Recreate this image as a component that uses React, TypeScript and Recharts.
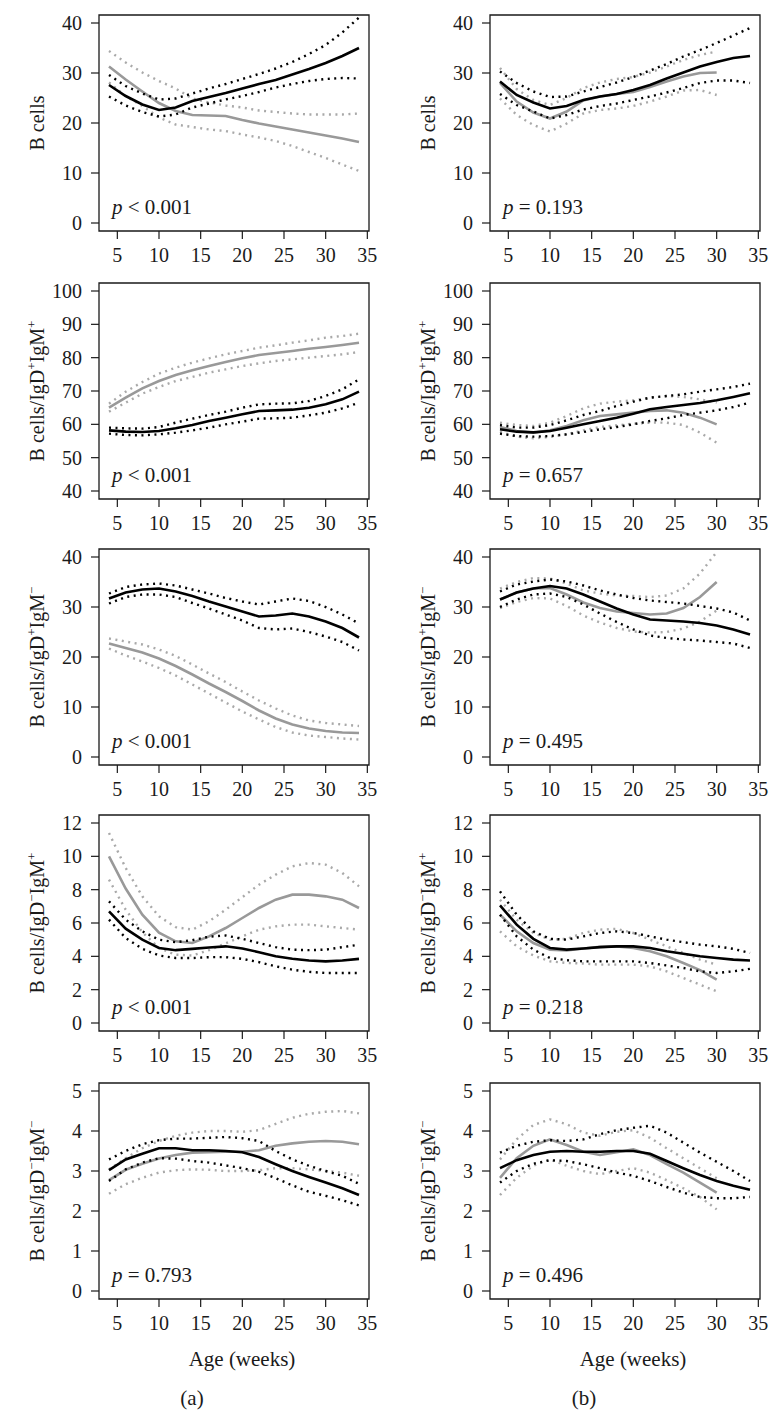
import React from "react";
import { Customized, Line, LineChart, ReferenceArea, XAxis, YAxis } from "recharts";

const FONT = "Liberation Serif, DejaVu Serif, serif";
const INK = "#1a1a1a";
const GREY = "#999999";
const GREY_DOT = "#a9a9a9";

// ages in weeks (group b's grey curve stops at 30)
const weeks = [4, 6, 8, 10, 12, 14, 16, 18, 20, 22, 24, 26, 28, 30, 32, 34];
const xTicks = [5, 10, 15, 20, 25, 30, 35];

const yTicks40 = [0, 10, 20, 30, 40];
const yTicks100 = [40, 50, 60, 70, 80, 90, 100];
const yTicks12 = [0, 2, 4, 6, 8, 10, 12];
const yTicks5 = [0, 1, 2, 3, 4, 5];

const pTextA = ["< 0.001", "< 0.001", "< 0.001", "< 0.001", "= 0.793"];
const pTextB = ["= 0.193", "= 0.657", "= 0.495", "= 0.218", "= 0.496"];

// superscript signs after IgD and IgM in the y labels (first row is plain "B cells")
const labelSigns: (string[] | null)[] = [null, ["+", "+"], ["+", "\u2212"], ["\u2212", "+"], ["\u2212", "\u2212"]];

// --- B cells
const a1Black = [27.6, 25.4, 23.7, 22.6, 23.1, 24.4, 25.2, 26.0, 26.9, 27.8, 28.6, 29.7, 30.8, 32.0, 33.4, 35.0];
const a1BlackHi = [29.6, 27.4, 25.9, 24.7, 24.9, 25.9, 26.9, 27.8, 28.8, 29.8, 30.9, 32.2, 33.8, 35.6, 38.1, 41.1];
const a1BlackLo = [25.3, 23.5, 22.2, 21.3, 21.7, 23.1, 23.9, 24.7, 25.4, 26.2, 27.1, 27.8, 28.4, 28.8, 29.0, 28.9];
const a1Grey = [31.3, 28.7, 26.3, 24.0, 22.4, 21.6, 21.5, 21.4, 20.6, 19.9, 19.3, 18.7, 18.1, 17.5, 16.9, 16.2];
const a1GreyHi = [34.4, 32.1, 30.1, 28.4, 26.9, 24.9, 24.1, 23.5, 23.1, 22.5, 22.2, 21.9, 21.7, 21.7, 21.7, 21.9];
const a1GreyLo = [28.1, 25.4, 23.4, 21.1, 19.7, 19.2, 18.7, 18.4, 17.7, 17.1, 16.4, 15.4, 14.2, 13.0, 11.7, 10.4];

const b1Black = [28.3, 25.6, 24.1, 22.9, 23.4, 24.6, 25.3, 25.8, 26.6, 27.6, 28.9, 30.1, 31.3, 32.2, 33.0, 33.4];
const b1BlackHi = [30.3, 28.0, 26.3, 25.2, 25.3, 26.3, 27.2, 28.1, 29.2, 30.5, 31.8, 33.3, 34.6, 36.0, 37.5, 39.0];
const b1BlackLo = [25.8, 23.6, 22.3, 20.9, 21.6, 22.7, 23.4, 23.9, 24.6, 25.3, 26.1, 27.0, 28.0, 28.5, 28.5, 28.0];
const b1Grey = [28.0, 24.3, 22.1, 20.9, 22.3, 24.5, 25.3, 25.8, 26.2, 27.2, 28.3, 29.3, 30.0, 30.1];
const b1GreyHi = [31.0, 26.8, 24.6, 23.6, 25.0, 27.0, 28.1, 28.8, 29.2, 30.1, 31.3, 32.6, 33.6, 34.3];
const b1GreyLo = [24.9, 21.6, 19.6, 18.3, 19.9, 21.9, 22.6, 22.9, 23.4, 24.3, 25.3, 26.5, 26.6, 25.6];

// --- IgD+ IgM+
const a2Black = [58.2, 57.8, 57.7, 58.0, 58.8, 59.8, 61.0, 62.0, 63.0, 64.0, 64.2, 64.4, 65.0, 66.0, 67.5, 69.8];
const a2BlackHi = [59.0, 58.8, 58.7, 59.2, 60.5, 61.7, 62.8, 63.8, 65.0, 66.0, 66.2, 66.3, 67.0, 68.5, 70.5, 73.5];
const a2BlackLo = [57.2, 56.8, 56.7, 57.0, 57.5, 58.2, 59.0, 60.0, 60.8, 61.7, 61.8, 62.0, 62.7, 63.5, 64.8, 66.5];
const a2Grey = [65.0, 68.0, 70.8, 73.0, 74.8, 76.2, 77.5, 78.7, 79.8, 80.8, 81.4, 82.0, 82.7, 83.2, 83.8, 84.5];
const a2GreyHi = [66.2, 69.8, 72.7, 75.2, 77.0, 78.5, 79.8, 81.0, 82.0, 83.0, 83.7, 84.5, 85.2, 86.0, 86.5, 87.2];
const a2GreyLo = [63.8, 66.5, 69.2, 71.2, 73.0, 74.2, 75.5, 76.5, 77.5, 78.3, 79.0, 79.5, 80.0, 80.5, 81.0, 81.7];

const b2Black = [58.5, 57.8, 57.6, 58.0, 59.0, 60.0, 61.0, 62.0, 63.2, 64.5, 65.2, 65.8, 66.4, 67.2, 68.2, 69.3];
const b2BlackHi = [59.8, 59.0, 59.0, 59.8, 61.2, 62.8, 64.0, 65.5, 66.8, 68.0, 68.5, 69.0, 69.8, 70.5, 71.2, 72.2];
const b2BlackLo = [57.2, 56.5, 56.3, 56.5, 57.0, 57.7, 58.5, 59.2, 60.0, 61.0, 61.8, 62.8, 63.5, 64.2, 65.2, 66.5];
const b2Grey = [59.2, 58.0, 57.5, 58.2, 59.5, 61.2, 62.5, 63.0, 63.5, 64.0, 64.2, 63.5, 62.0, 60.0];
const b2GreyHi = [60.5, 59.8, 59.5, 60.5, 62.5, 64.8, 66.2, 66.8, 67.2, 68.0, 68.5, 68.2, 67.5, 66.5];
const b2GreyLo = [57.8, 56.3, 55.8, 56.2, 57.0, 58.2, 59.2, 59.7, 60.2, 60.5, 60.5, 59.8, 57.5, 54.5];

// --- IgD+ IgM-
const a3Black = [31.7, 32.9, 33.5, 33.7, 33.1, 32.2, 31.1, 30.1, 29.1, 28.1, 28.3, 28.7, 28.1, 27.1, 25.8, 23.9];
const a3BlackHi = [32.7, 34.0, 34.5, 34.7, 34.3, 33.5, 32.7, 31.8, 31.1, 30.5, 31.1, 31.7, 31.2, 30.0, 28.5, 26.7];
const a3BlackLo = [30.7, 32.0, 32.5, 32.5, 32.0, 30.8, 29.7, 28.5, 27.3, 25.8, 25.5, 25.7, 25.0, 24.1, 23.0, 21.3];
const a3Grey = [22.7, 21.8, 20.9, 19.7, 18.2, 16.5, 14.7, 13.0, 11.2, 9.3, 7.7, 6.5, 5.7, 5.2, 4.9, 4.8];
const a3GreyHi = [23.7, 23.1, 22.5, 21.5, 20.2, 18.5, 16.7, 15.0, 13.1, 11.3, 9.7, 8.3, 7.3, 6.8, 6.5, 6.2];
const a3GreyLo = [21.7, 20.3, 19.1, 17.8, 16.3, 14.5, 12.7, 10.9, 9.1, 7.5, 6.0, 4.9, 4.3, 4.0, 3.7, 3.5];

const b3Black = [31.5, 32.9, 33.7, 34.2, 33.7, 32.5, 31.1, 29.7, 28.5, 27.5, 27.3, 27.1, 26.8, 26.3, 25.5, 24.5];
const b3BlackHi = [33.1, 34.5, 35.1, 35.5, 35.1, 34.3, 33.3, 32.5, 31.8, 31.3, 31.0, 30.7, 30.2, 29.7, 28.9, 27.3];
const b3BlackLo = [30.0, 31.5, 32.5, 32.7, 32.0, 30.5, 28.7, 27.0, 25.5, 24.3, 23.8, 23.5, 23.3, 23.0, 22.7, 21.8];
const b3Grey = [31.5, 32.9, 33.7, 33.8, 32.5, 30.9, 29.8, 29.1, 28.8, 28.5, 28.7, 29.8, 32.0, 35.0];
const b3GreyHi = [33.7, 35.0, 35.8, 35.7, 34.7, 33.3, 32.7, 32.3, 32.2, 32.0, 32.3, 33.7, 36.7, 41.0];
const b3GreyLo = [29.8, 31.0, 31.8, 31.7, 30.2, 28.3, 26.9, 25.8, 25.1, 24.9, 25.0, 25.7, 27.1, 29.3];

// --- IgD- IgM+
const a4Black = [6.7, 5.66, 5.0, 4.5, 4.37, 4.45, 4.53, 4.6, 4.47, 4.25, 4.0, 3.85, 3.75, 3.7, 3.75, 3.85];
const a4BlackHi = [7.3, 6.2, 5.5, 5.0, 4.85, 4.97, 5.18, 5.25, 5.05, 4.8, 4.55, 4.4, 4.37, 4.4, 4.55, 4.7];
const a4BlackLo = [6.2, 5.1, 4.45, 4.05, 3.9, 3.9, 3.95, 3.95, 3.85, 3.65, 3.4, 3.2, 3.07, 3.0, 3.0, 3.0];
const a4Grey = [10.0, 8.07, 6.5, 5.42, 4.9, 4.8, 5.2, 5.7, 6.3, 6.9, 7.4, 7.7, 7.7, 7.6, 7.4, 6.9];
const a4GreyHi = [11.4, 9.3, 7.6, 6.4, 5.75, 5.6, 6.1, 6.8, 7.55, 8.3, 8.9, 9.4, 9.6, 9.5, 9.0, 8.2];
const a4GreyLo = [8.6, 6.8, 5.45, 4.5, 4.1, 4.05, 4.37, 4.78, 5.2, 5.6, 5.8, 5.9, 5.9, 5.8, 5.7, 5.6];

const b4Black = [7.06, 5.9, 5.05, 4.5, 4.4, 4.47, 4.55, 4.6, 4.6, 4.5, 4.3, 4.15, 4.0, 3.9, 3.8, 3.75];
const b4BlackHi = [7.9, 6.5, 5.5, 5.05, 5.0, 5.2, 5.4, 5.5, 5.4, 5.2, 5.0, 4.85, 4.7, 4.6, 4.45, 4.2];
const b4BlackLo = [6.5, 5.2, 4.4, 3.9, 3.77, 3.7, 3.7, 3.7, 3.7, 3.6, 3.45, 3.3, 3.1, 3.0, 3.1, 3.25];
const b4Grey = [6.5, 5.5, 4.8, 4.4, 4.35, 4.47, 4.57, 4.6, 4.5, 4.3, 4.0, 3.6, 3.17, 2.6];
const b4GreyHi = [7.4, 6.2, 5.4, 5.0, 5.05, 5.4, 5.6, 5.65, 5.4, 5.0, 4.6, 4.2, 3.8, 3.5];
const b4GreyLo = [5.5, 4.6, 4.05, 3.7, 3.6, 3.57, 3.5, 3.5, 3.5, 3.4, 3.1, 2.7, 2.3, 1.9];

// --- IgD- IgM-
const a5Black = [3.02, 3.29, 3.43, 3.57, 3.57, 3.52, 3.52, 3.5, 3.47, 3.35, 3.17, 3.0, 2.85, 2.71, 2.57, 2.4];
const a5BlackHi = [3.29, 3.5, 3.67, 3.77, 3.81, 3.81, 3.83, 3.85, 3.82, 3.75, 3.5, 3.29, 3.13, 3.0, 2.88, 2.68];
const a5BlackLo = [2.75, 3.04, 3.21, 3.32, 3.31, 3.25, 3.21, 3.14, 3.07, 2.98, 2.82, 2.64, 2.48, 2.38, 2.27, 2.14];
const a5Grey = [2.77, 3.03, 3.18, 3.31, 3.4, 3.46, 3.47, 3.48, 3.48, 3.52, 3.63, 3.69, 3.73, 3.75, 3.73, 3.67];
const a5GreyHi = [3.04, 3.32, 3.57, 3.75, 3.88, 3.96, 4.0, 4.0, 3.98, 4.02, 4.18, 4.33, 4.43, 4.48, 4.5, 4.44];
const a5GreyLo = [2.43, 2.67, 2.83, 2.96, 3.02, 3.04, 3.03, 3.0, 3.0, 3.02, 3.07, 3.07, 3.04, 3.0, 2.96, 2.88];

const b5Black = [3.07, 3.27, 3.4, 3.48, 3.5, 3.48, 3.48, 3.5, 3.5, 3.43, 3.25, 3.07, 2.9, 2.75, 2.63, 2.53];
const b5BlackHi = [3.46, 3.63, 3.73, 3.77, 3.75, 3.79, 3.92, 4.02, 4.08, 4.13, 3.96, 3.71, 3.46, 3.23, 3.0, 2.75];
const b5BlackLo = [2.71, 3.0, 3.18, 3.27, 3.25, 3.17, 3.07, 2.96, 2.88, 2.75, 2.6, 2.46, 2.35, 2.32, 2.32, 2.35];
const b5Grey = [2.83, 3.32, 3.63, 3.79, 3.65, 3.48, 3.4, 3.47, 3.54, 3.4, 3.17, 2.96, 2.71, 2.46];
const b5GreyHi = [3.29, 3.79, 4.15, 4.29, 4.17, 3.96, 3.88, 3.98, 4.02, 3.83, 3.57, 3.32, 3.07, 2.82];
const b5GreyLo = [2.4, 2.83, 3.13, 3.29, 3.13, 3.0, 2.92, 3.0, 3.07, 2.96, 2.77, 2.57, 2.35, 2.04];

const seriesA = [
  [a1Black, a1BlackHi, a1BlackLo, a1Grey, a1GreyHi, a1GreyLo],
  [a2Black, a2BlackHi, a2BlackLo, a2Grey, a2GreyHi, a2GreyLo],
  [a3Black, a3BlackHi, a3BlackLo, a3Grey, a3GreyHi, a3GreyLo],
  [a4Black, a4BlackHi, a4BlackLo, a4Grey, a4GreyHi, a4GreyLo],
  [a5Black, a5BlackHi, a5BlackLo, a5Grey, a5GreyHi, a5GreyLo],
];
const seriesB = [
  [b1Black, b1BlackHi, b1BlackLo, b1Grey, b1GreyHi, b1GreyLo],
  [b2Black, b2BlackHi, b2BlackLo, b2Grey, b2GreyHi, b2GreyLo],
  [b3Black, b3BlackHi, b3BlackLo, b3Grey, b3GreyHi, b3GreyLo],
  [b4Black, b4BlackHi, b4BlackLo, b4Grey, b4GreyHi, b4GreyLo],
  [b5Black, b5BlackHi, b5BlackLo, b5Grey, b5GreyHi, b5GreyLo],
];
const rowTicks = [yTicks40, yTicks100, yTicks40, yTicks12, yTicks5];

// layout (px)
const COL_W = 391;
const BOX_LEFT = 99;
const BOX_W = 270;
const BOX_H = 216;
const TOP_PAD = 15;
const ROW_BOX_TOPS = [15, 283, 549, 815, 1083];
const PAGE_H = 1421;

const KEYS = ["black", "blackHi", "blackLo", "grey", "greyHi", "greyLo"];

function buildRows(series: number[][]) {
  return weeks.map((w, i) => {
    const row: Record<string, number | null> = { week: w };
    KEYS.forEach((k, j) => {
      row[k] = series[j][i] ?? null;
    });
    return row;
  });
}

function YLabel({ signs }: { signs: string[] | null }) {
  const x = 44;
  const y = TOP_PAD + BOX_H / 2;
  return (
    <text
      x={x}
      y={y}
      transform={`rotate(-90, ${x}, ${y})`}
      textAnchor="middle"
      fontFamily={FONT}
      fontSize={20}
      fill={INK}
    >
      {signs ? (
        <>
          B cells/IgD
          <tspan dy={-8} fontSize={13}>{signs[0]}</tspan>
          <tspan dy={8}>IgM</tspan>
          <tspan dy={-8} fontSize={13}>{signs[1]}</tspan>
        </>
      ) : (
        "B cells"
      )}
    </text>
  );
}

function Panel({ col, row }: { col: number; row: number }) {
  const ticks = rowTicks[row];
  const lo = ticks[0];
  const hi = ticks[ticks.length - 1];
  const pad = (hi - lo) * 0.04;
  const xPad = (weeks[weeks.length - 1] - weeks[0]) * 0.04;
  const xDomain = [weeks[0] - xPad, weeks[weeks.length - 1] + xPad];
  const data = buildRows((col === 0 ? seriesA : seriesB)[row]);
  const pText = (col === 0 ? pTextA : pTextB)[row];
  const last = row === ROW_BOX_TOPS.length - 1;
  const top = ROW_BOX_TOPS[row] - TOP_PAD;
  const height = last ? PAGE_H - top : TOP_PAD + BOX_H + 36;
  const tickStyle = { fontFamily: FONT, fontSize: 20, fill: INK };

  const dotted = { strokeWidth: 2.4, strokeDasharray: "2 4.5", strokeLinecap: "butt" as const };

  return (
    <div style={{ position: "absolute", left: col * COL_W, top }}>
      <LineChart
        width={COL_W}
        height={height}
        data={data}
        margin={{ top: TOP_PAD, right: COL_W - BOX_LEFT - BOX_W, bottom: 0, left: 0 }}
        style={{ fontFamily: FONT }}
      >
        <XAxis
          dataKey="week"
          type="number"
          domain={xDomain}
          allowDataOverflow
          ticks={xTicks}
          interval={0}
          tick={tickStyle}
          tickSize={8}
          tickMargin={9}
          tickLine={{ stroke: INK, strokeWidth: 1.2 }}
          axisLine={false}
          height={height - TOP_PAD - BOX_H}
          label={
            last
              ? {
                  content: () => (
                    <text
                      x={BOX_LEFT + BOX_W / 2 + 8}
                      y={TOP_PAD + BOX_H + 67}
                      textAnchor="middle"
                      fontFamily={FONT}
                      fontSize={21}
                      fill={INK}
                    >
                      Age (weeks)
                    </text>
                  ),
                }
              : undefined
          }
        />
        <YAxis
          type="number"
          domain={[lo - pad, hi + pad]}
          allowDataOverflow
          ticks={ticks}
          interval={0}
          tick={tickStyle}
          tickSize={8}
          tickMargin={9}
          tickLine={{ stroke: INK, strokeWidth: 1.2 }}
          axisLine={false}
          width={BOX_LEFT}
          label={{ content: () => <YLabel signs={labelSigns[row]} /> }}
        />
        <ReferenceArea
          x1={xDomain[0]}
          x2={xDomain[1]}
          y1={lo - pad}
          y2={hi + pad}
          fill="none"
          stroke={INK}
          strokeWidth={1.3}
          ifOverflow="visible"
        />
        <Line dataKey="greyHi" stroke={GREY_DOT} {...dotted} dot={false} type="linear" isAnimationActive={false} />
        <Line dataKey="greyLo" stroke={GREY_DOT} {...dotted} dot={false} type="linear" isAnimationActive={false} />
        <Line dataKey="grey" stroke={GREY} strokeWidth={2.6} dot={false} type="linear" isAnimationActive={false} />
        <Line dataKey="blackHi" stroke="#000" {...dotted} dot={false} type="linear" isAnimationActive={false} />
        <Line dataKey="blackLo" stroke="#000" {...dotted} dot={false} type="linear" isAnimationActive={false} />
        <Line dataKey="black" stroke="#000" strokeWidth={2.6} dot={false} type="linear" isAnimationActive={false} />
        <Customized
          component={() => (
            <text
              x={BOX_LEFT + 13}
              y={TOP_PAD + BOX_H - 17}
              fontFamily={FONT}
              fontSize={21}
              fill={INK}
              style={{ whiteSpace: "pre" }}
            >
              <tspan fontStyle="italic">p</tspan>
              {" " + pText}
            </text>
          )}
        />
      </LineChart>
    </div>
  );
}

const panelTags = ["(a)", "(b)"];
const TAG_CENTERS = [192, 584];

export default function App() {
  return (
    <div
      style={{
        position: "absolute",
        left: 0,
        top: 0,
        width: 782,
        height: PAGE_H,
        background: "#fff",
        overflow: "hidden",
        fontFamily: FONT,
      }}
    >
      {[0, 1].map((col) =>
        ROW_BOX_TOPS.map((_, row) => <Panel key={`${col}-${row}`} col={col} row={row} />)
      )}
      {panelTags.map((t, i) => (
        <div
          key={t}
          style={{
            position: "absolute",
            left: TAG_CENTERS[i],
            top: 1398,
            transform: "translate(-50%, -50%)",
            fontFamily: FONT,
            fontSize: 21,
            lineHeight: 1,
            color: INK,
          }}
        >
          {t}
        </div>
      ))}
    </div>
  );
}
